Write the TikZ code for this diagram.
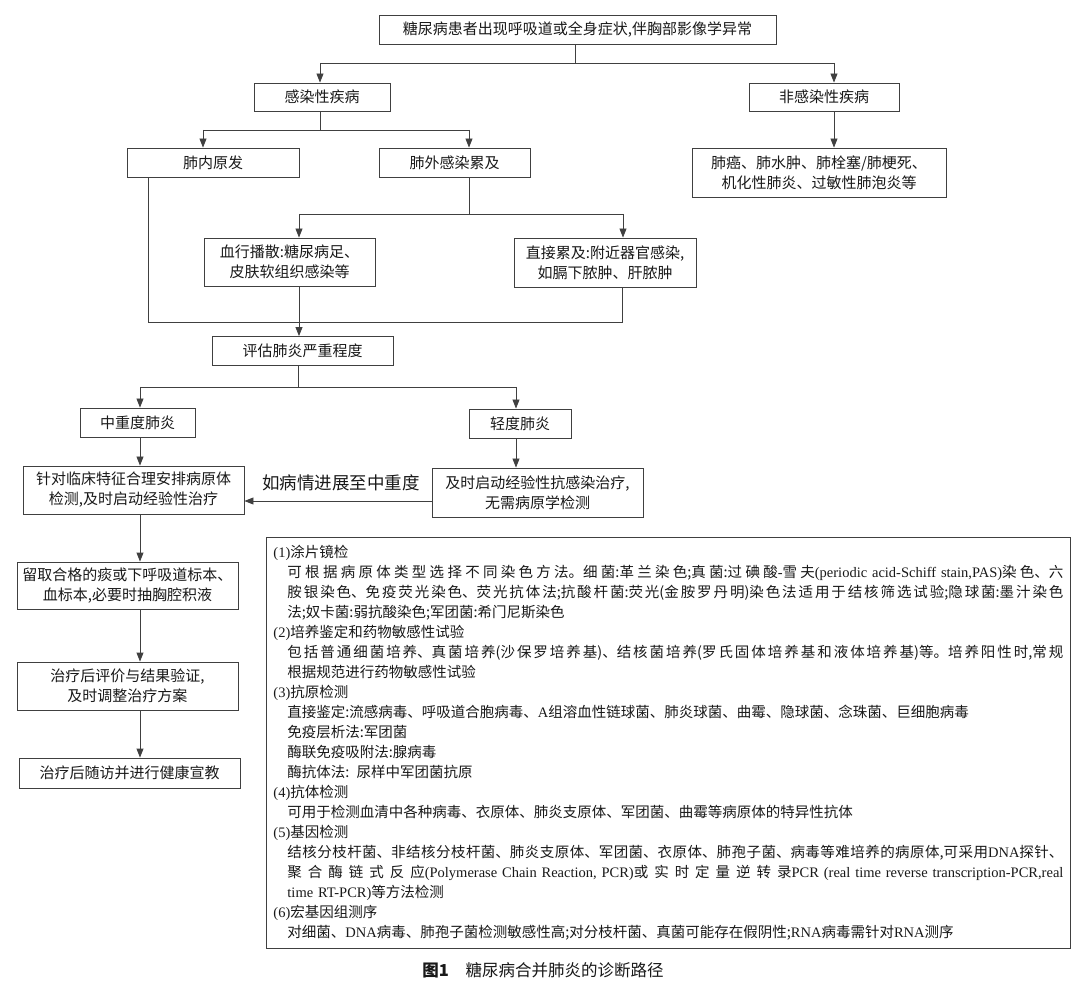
\documentclass[tikz,border=0pt]{standalone}
\usepackage{fontspec}
\setmainfont{Noto Sans CJK SC}
\newfontfamily\latinfont{Liberation Serif}
\newcommand{\lat}[1]{{\latinfont #1}}
\newcommand{\fullline}[1]{\makebox[776pt][s]{#1}}
\usetikzlibrary{arrows.meta}
% stretchable glue between ideographs, for the justified lines
\newXeTeXintercharclass\hanclass
\newcount\hancode
\hancode="4E00
\loop
  \XeTeXcharclass\hancode=\hanclass
  \advance\hancode by 1
\ifnum\hancode<"A000 \repeat
\XeTeXinterchartokenstate=1
\XeTeXinterchartoks\hanclass\hanclass={\hskip 0pt plus 1.5pt\relax}

\begin{document}
\begin{tikzpicture}[x=1pt,y=-1pt]
        \tikzset{box/.style={draw=black!75,line width=0.9pt,inner sep=0pt,align=center,
                font=\fontsize{15}{20}\selectfont,text=black!90},
            link/.style={draw=black!75,line width=0.9pt},
            arrow/.style={link,-{Triangle[length=9pt,width=7pt]}}}
        \useasboundingbox[fill=white] (0,0) rectangle (1080,984);
        % flow chart boxes
        \node[box,minimum width=397pt,minimum height=29pt] (start) at (577.5,29.5)
            {糖尿病患者出现呼吸道或全身症状,伴胸部影像学异常};
        \node[box,minimum width=136pt,minimum height=28pt] (inf) at (322,97) {感染性疾病};
        \node[box,minimum width=150pt,minimum height=28pt] (noninf) at (824,97) {非感染性疾病};
        \node[box,minimum width=172pt,minimum height=29pt] (intra) at (213,162.5) {肺内原发};
        \node[box,minimum width=151pt,minimum height=29pt] (extra) at (454.5,162.5) {肺外感染累及};
        \node[box,minimum width=254pt,minimum height=49pt] (nonlist) at (819,172.5)
            {肺癌、肺水肿、肺栓塞/肺梗死、\\机化性肺炎、过敏性肺泡炎等};
        \node[box,minimum width=171pt,minimum height=48pt] (blood) at (289.5,262)
            {血行播散:糖尿病足、\\皮肤软组织感染等};
        \node[box,minimum width=182pt,minimum height=49pt] (direct) at (605,262.5)
            {直接累及:附近器官感染,\\如膈下脓肿、肝脓肿};
        \node[box,minimum width=181pt,minimum height=29pt] (assess) at (302.5,351) {评估肺炎严重程度};
        \node[box,minimum width=115pt,minimum height=29pt] (severe) at (137.5,422.5) {中重度肺炎};
        \node[box,minimum width=102pt,minimum height=29pt] (mild) at (520,423.5) {轻度肺炎};
        \node[box,minimum width=221pt,minimum height=48pt] (target) at (133.5,490)
            {针对临床特征合理安排病原体\\检测,及时启动经验性治疗};
        \node[box,minimum width=211pt,minimum height=49pt] (empiric) at (537.5,492.5)
            {及时启动经验性抗感染治疗,\\无需病原学检测};
        \node[box,minimum width=221pt,minimum height=47pt] (sample) at (127.5,585.5)
            {留取合格的痰或下呼吸道标本、\\血标本,必要时抽胸腔积液};
        \node[box,minimum width=221pt,minimum height=48pt] (evaluate) at (127.5,686)
            {治疗后评价与结果验证,\\及时调整治疗方案};
        \node[box,minimum width=221pt,minimum height=30pt] (followup) at (129.5,773)
            {治疗后随访并进行健康宣教};
        \node[text=black!90,font=\fontsize{17.5}{20}\selectfont] (progress) at (341,483) {如病情进展至中重度};
        % junctions
        \coordinate (s1) at (575,63);
        \coordinate (s1l) at (320,63);
        \coordinate (s1r) at (834,63);
        \coordinate (s2) at (320,130);
        \coordinate (s2l) at (203,130);
        \coordinate (s2r) at (469,130);
        \coordinate (s3) at (469,214);
        \coordinate (s3l) at (299,214);
        \coordinate (s3r) at (623,214);
        \coordinate (j1) at (148,322);
        \coordinate (j2) at (622,322);
        \coordinate (s4) at (298,387);
        \coordinate (s4l) at (140,387);
        \coordinate (s4r) at (516,387);
        \coordinate (back) at (434,501);
        % connectors
        \draw[link] (start.south -| s1) -- (s1);
        \draw[link] (s1l) -- (s1r);
        \draw[arrow] (s1l) -- (inf.north -| s1l);
        \draw[arrow] (s1r) -- (noninf.north -| s1r);
        \draw[arrow] (noninf.south -| s1r) -- (nonlist.north -| s1r);
        \draw[link] (inf.south -| s2) -- (s2);
        \draw[link] (s2l) -- (s2r);
        \draw[arrow] (s2l) -- (intra.north -| s2l);
        \draw[arrow] (s2r) -- (extra.north -| s2r);
        \draw[link] (extra.south -| s3) -- (s3);
        \draw[link] (s3l) -- (s3r);
        \draw[arrow] (s3l) -- (blood.north -| s3l);
        \draw[arrow] (s3r) -- (direct.north -| s3r);
        \draw[link] (intra.south -| j1) -- (j1) -- (j2) -- (direct.south -| j2);
        \draw[arrow] (blood.south -| s3l) -- (assess.north -| s3l);
        \draw[link] (assess.south -| s4) -- (s4);
        \draw[link] (s4l) -- (s4r);
        \draw[arrow] (s4l) -- (severe.north -| s4l);
        \draw[arrow] (s4r) -- (mild.north -| s4r);
        \draw[arrow] (severe.south -| s4l) -- (target.north -| s4l);
        \draw[arrow] (mild.south -| s4r) -- (empiric.north -| s4r);
        \draw[arrow] (empiric.west |- back) -- (target.east |- back);
        \draw[arrow] (target.south -| s4l) -- (sample.north -| s4l);
        \draw[arrow] (sample.south -| s4l) -- (evaluate.north -| s4l);
        \draw[arrow] (evaluate.south -| s4l) -- (followup.north -| s4l);
        % detection methods
        \node[draw=black!75,line width=0.9pt,anchor=north west,text width=790pt,inner xsep=7pt,
            inner ysep=0pt,minimum height=411pt,align=left,text=black!90,
            font=\fontsize{14.5}{20}\selectfont] (methods) at (266,537) {%
            \lat{(1)}涂片镜检\\
            \hspace*{14pt}\fullline{可根据病原体类型选择不同染色方法。细菌:革兰染色;真菌:过碘酸\lat{-}雪夫\lat{(periodic acid-Schiff stain,PAS)}染色、六}\\
            \hspace*{14pt}\fullline{胺银染色、免疫荧光染色、荧光抗体法;抗酸杆菌:荧光(金胺罗丹明)染色法适用于结核筛选试验;隐球菌:墨汁染色}\\
            \hspace*{14pt}法;奴卡菌:弱抗酸染色;军团菌:希门尼斯染色\\
            \lat{(2)}培养鉴定和药物敏感性试验\\
            \hspace*{14pt}\fullline{包括普通细菌培养、真菌培养(沙保罗培养基)、结核菌培养(罗氏固体培养基和液体培养基)等。培养阳性时,常规}\\
            \hspace*{14pt}根据规范进行药物敏感性试验\\
            \lat{(3)}抗原检测\\
            \hspace*{14pt}直接鉴定:流感病毒、呼吸道合胞病毒、\lat{A}组溶血性链球菌、肺炎球菌、曲霉、隐球菌、念珠菌、巨细胞病毒\\
            \hspace*{14pt}免疫层析法:军团菌\\
            \hspace*{14pt}酶联免疫吸附法:腺病毒\\
            \hspace*{14pt}酶抗体法: 尿样中军团菌抗原\\
            \lat{(4)}抗体检测\\
            \hspace*{14pt}可用于检测血清中各种病毒、衣原体、肺炎支原体、军团菌、曲霉等病原体的特异性抗体\\
            \lat{(5)}基因检测\\
            \hspace*{14pt}\fullline{结核分枝杆菌、非结核分枝杆菌、肺炎支原体、军团菌、衣原体、肺孢子菌、病毒等难培养的病原体,可采用\lat{DNA}探针、}\\
            \hspace*{14pt}\fullline{聚合酶链式反应\lat{(Polymerase Chain Reaction, PCR)}或实时定量逆转录\lat{PCR (real time reverse transcription-PCR,real}}\\
            \hspace*{14pt}\lat{time RT-PCR)}等方法检测\\
            \lat{(6)}宏基因组测序\\
            \hspace*{14pt}对细菌、\lat{DNA}病毒、肺孢子菌检测敏感性高;对分枝杆菌、真菌可能存在假阴性;\lat{RNA}病毒需针对\lat{RNA}测序};
        \node[text=black!90,font=\fontsize{16.5}{20}\selectfont] (caption) at (543,970)
            {\textbf{图1}\hspace{1em}糖尿病合并肺炎的诊断路径};
    \end{tikzpicture}
\end{document}
